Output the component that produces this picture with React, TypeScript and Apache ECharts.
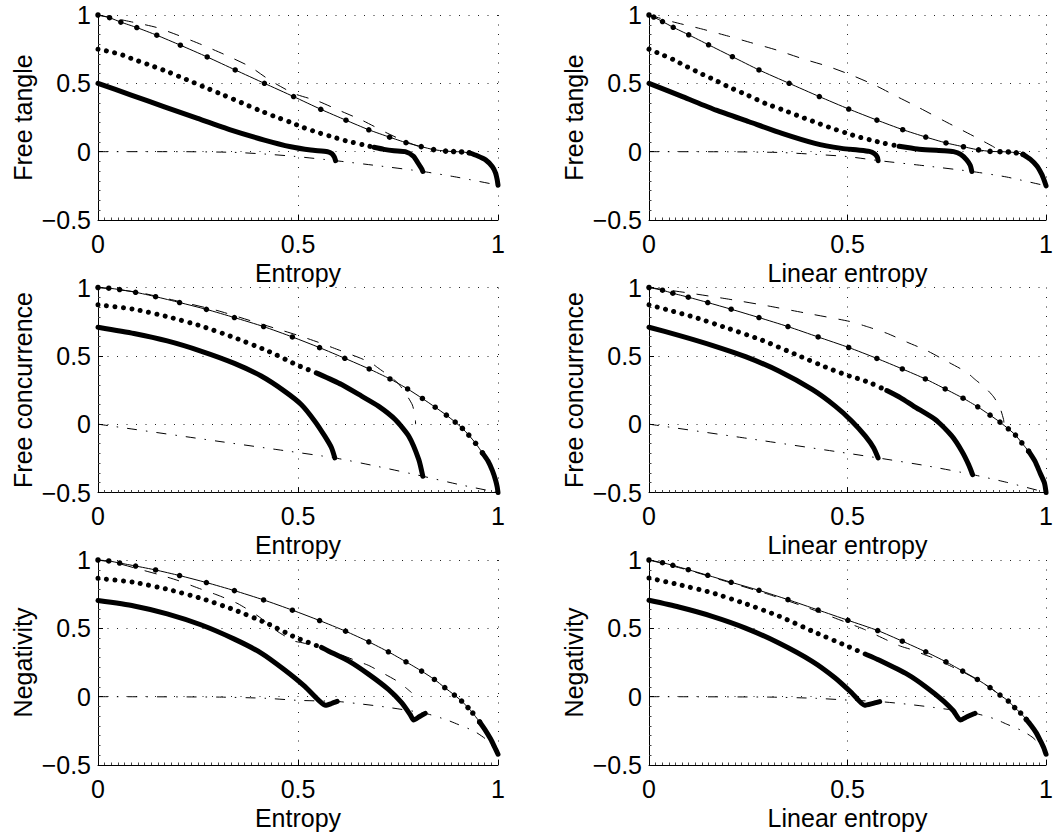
import React, { useEffect, useRef } from 'react';
import * as echarts from 'echarts';

type P = [number, number][];

const xNames = ['Entropy', 'Linear entropy'];
const yNames = ['Free tangle', 'Free concurrence', 'Negativity'];
const xTickInterval = 0.5;
const yTickInterval = 0.5;

// ---------- Panel 1: Free tangle vs Entropy ----------
const p1A: P = [[0,1],[0.029,0.98],[0.057,0.948],[0.097,0.908],[0.147,0.852],[0.206,0.779],[0.273,0.693],[0.343,0.598],[0.416,0.5],[0.489,0.403],[0.557,0.31],[0.62,0.23],[0.677,0.16],[0.729,0.106],[0.77,0.066],[0.808,0.037],[0.839,0.015],[0.869,0.004],[0.889,0.001],[0.909,-0.002],[0.928,-0.008]];
const p1At: P = [[0.928,-0.008],[0.948,-0.03],[0.969,-0.06],[0.986,-0.11],[0.994,-0.157],[0.998,-0.206],[1,-0.245]];
const p1D: P = [[0,1],[0.08,0.952],[0.145,0.91],[0.2,0.852],[0.26,0.782],[0.32,0.706],[0.38,0.622],[0.43,0.522],[0.49,0.425],[0.55,0.37],[0.6,0.306],[0.66,0.23],[0.72,0.14],[0.76,0.085],[0.8,0.04]];
const p1B: P = [[0,0.75],[0.033,0.73],[0.062,0.706],[0.087,0.678],[0.13,0.633],[0.175,0.584],[0.221,0.528],[0.268,0.47],[0.314,0.414],[0.359,0.358],[0.402,0.304],[0.444,0.255],[0.482,0.214],[0.515,0.175],[0.549,0.141],[0.582,0.112],[0.619,0.08],[0.665,0.049],[0.69,0.032]];
const p1Bt: P = [[0.69,0.032],[0.715,0.017],[0.74,0.007],[0.768,0.0],[0.789,-0.034],[0.8,-0.083],[0.81,-0.13],[0.812,-0.145]];
const p1C: P = [[0,0.5],[0.083,0.414],[0.166,0.328],[0.249,0.243],[0.333,0.158],[0.416,0.085],[0.482,0.036],[0.532,0.012],[0.574,0.0],[0.585,-0.015],[0.591,-0.04],[0.594,-0.066]];
const p1DD: P = [[0,0],[0.2,0],[0.34,-0.005],[0.42,-0.018],[0.49,-0.034],[0.594,-0.066],[0.7,-0.103],[0.812,-0.145],[0.9,-0.188],[1,-0.245]];

// ---------- Panel 2: Free tangle vs Linear entropy ----------
const p2A: P = [[0,1],[0.012,0.985],[0.034,0.952],[0.061,0.91],[0.1,0.855],[0.15,0.782],[0.21,0.695],[0.277,0.598],[0.353,0.5],[0.429,0.403],[0.503,0.312],[0.574,0.231],[0.639,0.161],[0.697,0.107],[0.748,0.064],[0.792,0.036],[0.83,0.013],[0.859,0.002],[0.884,0.0],[0.905,-0.002],[0.925,-0.008],[0.942,-0.02]];
const p2At: P = [[0.942,-0.02],[0.96,-0.055],[0.977,-0.105],[0.989,-0.165],[0.996,-0.215],[1,-0.25]];
const p2D: P = [[0,1],[0.06,0.95],[0.13,0.9],[0.2,0.845],[0.26,0.795],[0.32,0.745],[0.39,0.677],[0.45,0.625],[0.51,0.56],[0.57,0.485],[0.62,0.41],[0.68,0.322],[0.74,0.23],[0.79,0.155],[0.83,0.095],[0.865,0.04],[0.88,0.014]];
const p2B: P = [[0,0.75],[0.036,0.706],[0.061,0.674],[0.083,0.64],[0.125,0.579],[0.163,0.528],[0.202,0.472],[0.25,0.411],[0.293,0.353],[0.339,0.304],[0.382,0.255],[0.422,0.212],[0.462,0.17],[0.497,0.136],[0.526,0.109],[0.559,0.085],[0.593,0.061],[0.63,0.039]];
const p2Bt: P = [[0.63,0.039],[0.676,0.019],[0.709,0.012],[0.742,0.007],[0.767,0.0],[0.785,-0.02],[0.8,-0.06],[0.809,-0.1],[0.813,-0.145]];
const p2C: P = [[0,0.5],[0.086,0.401],[0.169,0.304],[0.252,0.219],[0.335,0.134],[0.418,0.061],[0.485,0.024],[0.526,0.012],[0.555,0.002],[0.568,-0.015],[0.575,-0.04],[0.577,-0.066]];
const p2DD: P = [[0,0],[0.2,-0.001],[0.33,-0.006],[0.42,-0.02],[0.5,-0.036],[0.577,-0.065],[0.7,-0.105],[0.813,-0.145],[0.9,-0.185],[1,-0.25]];

// ---------- Panel 3: Free concurrence vs Entropy ----------
const p3A: P = [[0,1],[0.027,0.995],[0.054,0.985],[0.094,0.965],[0.144,0.933],[0.204,0.89],[0.271,0.84],[0.341,0.78],[0.414,0.714],[0.486,0.638],[0.554,0.56],[0.617,0.482],[0.678,0.404],[0.73,0.331],[0.774,0.258],[0.811,0.188],[0.843,0.124],[0.871,0.066],[0.893,0.015],[0.911,-0.031],[0.927,-0.08],[0.944,-0.14],[0.961,-0.21]];
const p3At: P = [[0.961,-0.21],[0.975,-0.27],[0.986,-0.34],[0.994,-0.41],[0.998,-0.46],[1,-0.5]];
const p3D: P = [[0,1],[0.1,0.965],[0.2,0.9],[0.3,0.83],[0.4,0.74],[0.45,0.695],[0.5,0.65],[0.55,0.6],[0.6,0.545],[0.65,0.49],[0.683,0.448],[0.7,0.412],[0.72,0.37],[0.75,0.3],[0.77,0.22],[0.786,0.14],[0.793,0.05],[0.794,0.0]];
const p3B: P = [[0,0.873],[0.09,0.841],[0.173,0.787],[0.257,0.719],[0.341,0.633],[0.425,0.535],[0.5,0.43],[0.55,0.37]];
const p3Bt: P = [[0.55,0.37],[0.609,0.29],[0.659,0.205],[0.701,0.132],[0.743,0.034],[0.777,-0.088],[0.802,-0.259],[0.812,-0.381]];
const p3C: P = [[0,0.709],[0.09,0.663],[0.173,0.609],[0.257,0.535],[0.341,0.445],[0.408,0.352],[0.466,0.242],[0.508,0.144],[0.542,0.022],[0.567,-0.088],[0.584,-0.174],[0.592,-0.247]];
const p3DD: P = [[0,0],[0.3,-0.125],[0.45,-0.187],[0.592,-0.247],[0.7,-0.31],[0.812,-0.381],[0.9,-0.44],[1,-0.5]];

// ---------- Panel 4: Free concurrence vs Linear entropy ----------
const p4A: P = [[0,1],[0.034,0.98],[0.06,0.958],[0.099,0.929],[0.148,0.89],[0.207,0.841],[0.277,0.78],[0.35,0.714],[0.426,0.638],[0.503,0.561],[0.574,0.481],[0.638,0.404],[0.696,0.331],[0.746,0.258],[0.791,0.19],[0.828,0.127],[0.859,0.066],[0.884,0.015],[0.905,-0.034],[0.923,-0.08],[0.939,-0.137],[0.956,-0.198]];
const p4At: P = [[0.956,-0.198],[0.972,-0.271],[0.985,-0.357],[0.996,-0.43],[1,-0.5]];
const p4D: P = [[0,1],[0.1,0.96],[0.2,0.915],[0.3,0.865],[0.4,0.81],[0.505,0.752],[0.55,0.713],[0.6,0.664],[0.65,0.6],[0.7,0.538],[0.75,0.46],[0.8,0.38],[0.82,0.33],[0.847,0.266],[0.868,0.2],[0.884,0.12],[0.893,0.034],[0.894,0.005]];
const p4B: P = [[0,0.873],[0.05,0.834],[0.117,0.78],[0.201,0.699],[0.285,0.614],[0.369,0.511],[0.453,0.408],[0.505,0.352],[0.53,0.33],[0.559,0.3],[0.599,0.246]];
const p4Bt: P = [[0.599,0.246],[0.634,0.193],[0.667,0.131],[0.721,0.034],[0.763,-0.088],[0.788,-0.198],[0.805,-0.296],[0.815,-0.369]];
const p4C: P = [[0,0.709],[0.075,0.65],[0.159,0.577],[0.243,0.494],[0.327,0.389],[0.411,0.254],[0.469,0.132],[0.511,0.022],[0.545,-0.088],[0.566,-0.174],[0.577,-0.247]];
const p4DD: P = [[0,0],[0.25,-0.105],[0.5,-0.213],[0.577,-0.247],[0.7,-0.305],[0.815,-0.369],[0.9,-0.425],[1,-0.5]];

// ---------- Panel 5: Negativity vs Entropy ----------
const p5A: P = [[0,1],[0.027,0.993],[0.054,0.978],[0.094,0.956],[0.144,0.927],[0.204,0.886],[0.271,0.835],[0.341,0.776],[0.414,0.708],[0.486,0.633],[0.554,0.557],[0.619,0.479],[0.677,0.401],[0.726,0.328],[0.77,0.255],[0.809,0.187],[0.841,0.126],[0.867,0.066],[0.891,0.012],[0.909,-0.032],[0.925,-0.08],[0.937,-0.12],[0.954,-0.185]];
const p5At: P = [[0.954,-0.185],[0.967,-0.239],[0.982,-0.312],[0.992,-0.372],[1,-0.421]];
const p5D: P = [[0,1],[0.05,0.975],[0.1,0.935],[0.15,0.895],[0.2,0.85],[0.25,0.795],[0.3,0.742],[0.35,0.68],[0.4,0.59],[0.45,0.475],[0.49,0.407],[0.51,0.395],[0.54,0.372],[0.57,0.345],[0.6,0.315],[0.648,0.26],[0.677,0.228],[0.72,0.16],[0.75,0.11],[0.784,0.03]];
const p5B: P = [[0,0.866],[0.09,0.837],[0.173,0.786],[0.257,0.72],[0.341,0.635],[0.425,0.533],[0.492,0.436],[0.559,0.36]];
const p5Bt: P = [[0.559,0.36],[0.577,0.333],[0.627,0.26],[0.677,0.163],[0.726,0.053],[0.759,-0.044],[0.78,-0.129],[0.789,-0.171],[0.803,-0.147],[0.818,-0.122]];
const p5C: P = [[0,0.703],[0.09,0.664],[0.173,0.606],[0.257,0.526],[0.341,0.421],[0.408,0.319],[0.466,0.197],[0.517,0.075],[0.55,-0.022],[0.569,-0.063],[0.584,-0.05],[0.598,-0.035]];
const p5DD: P = [[0,0],[0.3,-0.003],[0.42,-0.012],[0.5,-0.027],[0.598,-0.035],[0.65,-0.051],[0.72,-0.076],[0.818,-0.122],[0.87,-0.168],[0.9,-0.203],[0.94,-0.252],[0.967,-0.305],[0.985,-0.36],[1,-0.421]];

// ---------- Panel 6: Negativity vs Linear entropy ----------
const p6A: P = [[0,1],[0.034,0.98],[0.06,0.961],[0.099,0.929],[0.148,0.888],[0.207,0.837],[0.277,0.778],[0.35,0.71],[0.426,0.634],[0.501,0.559],[0.576,0.484],[0.638,0.406],[0.697,0.328],[0.748,0.255],[0.79,0.187],[0.827,0.126],[0.859,0.066],[0.884,0.012],[0.905,-0.032],[0.921,-0.08],[0.936,-0.12],[0.95,-0.166]];
const p6At: P = [[0.95,-0.166],[0.962,-0.209],[0.975,-0.263],[0.986,-0.324],[0.994,-0.372],[1,-0.421]];
const p6D: P = [[0,1],[0.1,0.925],[0.2,0.838],[0.3,0.75],[0.4,0.65],[0.5,0.54],[0.54,0.495],[0.605,0.406],[0.634,0.369],[0.666,0.34],[0.695,0.306],[0.724,0.275],[0.748,0.24],[0.79,0.182],[0.83,0.118],[0.86,0.063],[0.885,0.01]];
const p6B: P = [[0,0.868],[0.075,0.82],[0.159,0.76],[0.243,0.68],[0.327,0.59],[0.411,0.48],[0.503,0.365],[0.55,0.305]];
const p6Bt: P = [[0.55,0.305],[0.576,0.272],[0.651,0.163],[0.7,0.066],[0.742,-0.032],[0.767,-0.105],[0.784,-0.171],[0.801,-0.147],[0.821,-0.122]];
const p6C: P = [[0,0.705],[0.075,0.656],[0.159,0.588],[0.243,0.502],[0.327,0.393],[0.411,0.259],[0.469,0.137],[0.511,0.027],[0.543,-0.063],[0.562,-0.051],[0.581,-0.036]];
const p6DD: P = [[0,0],[0.3,-0.003],[0.42,-0.012],[0.5,-0.025],[0.581,-0.036],[0.65,-0.055],[0.72,-0.08],[0.821,-0.122],[0.87,-0.162],[0.9,-0.2],[0.94,-0.25],[0.967,-0.3],[0.985,-0.355],[1,-0.421]];

const panels = [
  { A: p1A, At: p1At, D: p1D, B: p1B, Bt: p1Bt, C: p1C, DD: p1DD },
  { A: p2A, At: p2At, D: p2D, B: p2B, Bt: p2Bt, C: p2C, DD: p2DD },
  { A: p3A, At: p3At, D: p3D, B: p3B, Bt: p3Bt, C: p3C, DD: p3DD },
  { A: p4A, At: p4At, D: p4D, B: p4B, Bt: p4Bt, C: p4C, DD: p4DD },
  { A: p5A, At: p5At, D: p5D, B: p5B, Bt: p5Bt, C: p5C, DD: p5DD },
  { A: p6A, At: p6At, D: p6D, B: p6B, Bt: p6Bt, C: p6C, DD: p6DD },
];

const FONT = 'Liberation Sans, Arial, Helvetica, sans-serif';
const FS = 25;
const colLeft = [98, 649];
const rowTop = [15, 287.5, 560];
const GW = 400;
const GH = 205;

function buildOption() {
  const grid: any[] = [];
  const xAxis: any[] = [];
  const yAxis: any[] = [];
  const series: any[] = [];
  const gridLine = { show: true, lineStyle: { color: '#222', width: 1, type: [1, 8.5] } };
  panels.forEach((p, i) => {
    const row = Math.floor(i / 2);
    const col = i % 2;
    grid.push({ left: colLeft[col], top: rowTop[row], width: GW, height: GH, containLabel: false });
    xAxis.push({
      type: 'value', gridIndex: i, min: 0, max: 1, interval: xTickInterval,
      name: xNames[col], nameLocation: 'middle', nameGap: 40,
      nameTextStyle: { fontSize: FS, color: '#000', fontFamily: FONT },
      axisLine: { show: true, onZero: false, lineStyle: { color: '#000', width: 1 } },
      axisTick: { show: true, inside: true, length: 5, lineStyle: { color: '#000' } },
      minorTick: { show: true, splitNumber: 30, length: 2.5, lineStyle: { color: '#444', width: 1 } },
      splitLine: gridLine,
      axisLabel: { margin: 11, fontSize: FS, color: '#000', fontFamily: FONT },
    });
    yAxis.push({
      type: 'value', gridIndex: i, min: -0.5, max: 1, interval: yTickInterval,
      name: yNames[row], nameLocation: 'middle', nameGap: 63,
      nameTextStyle: { fontSize: FS, color: '#000', fontFamily: FONT },
      axisLine: { show: true, onZero: false, lineStyle: { color: '#000', width: 1 } },
      axisTick: { show: true, inside: true, length: 5, lineStyle: { color: '#000' } },
      minorTick: { show: true, splitNumber: 7, length: 2.5, lineStyle: { color: '#444', width: 1 } },
      splitLine: gridLine,
      axisLabel: {
        margin: 7, fontSize: FS, color: '#000', fontFamily: FONT,
        formatter: (v: number) => (v < 0 ? '\u2212' + String(Math.abs(v)) : String(v)),
      },
    });
    const base = {
      type: 'line', xAxisIndex: i, yAxisIndex: i, clip: false, silent: true,
      emphasis: { disabled: true },
    };
    const sm = { smooth: 0.2 };
    const thick = { color: '#000', width: 5, cap: 'round', join: 'round' };
    series.push({ ...base, ...sm, data: p.DD, symbol: 'none', lineStyle: { color: '#000', width: 1, type: [10, 9, 1.5, 9] } });
    series.push({ ...base, ...sm, data: p.D, symbol: 'none', lineStyle: { color: '#000', width: 1, type: [12, 12] } });
    series.push({ ...base, ...sm, data: p.C, symbol: 'none', lineStyle: thick });
    series.push({ ...base, ...sm, data: p.B, symbol: 'none', lineStyle: { color: '#000', width: 5, cap: 'round', type: [0.01, 8.5] } });
    series.push({ ...base, ...sm, data: p.Bt, symbol: 'none', lineStyle: thick });
    series.push({
      ...base, ...sm, data: p.A, symbol: 'circle', symbolSize: 5.5, showSymbol: true, showAllSymbol: true,
      itemStyle: { color: '#000' }, lineStyle: { color: '#000', width: 1 },
    });
    series.push({ ...base, ...sm, data: p.At, symbol: 'none', lineStyle: thick });
  });
  return { animation: false, backgroundColor: '#fff', grid, xAxis, yAxis, series };
}

export default function App() {
  const ref = useRef<HTMLDivElement>(null);
  useEffect(() => {
    if (!ref.current) return;
    const chart = echarts.init(ref.current, undefined, { renderer: 'svg' });
    chart.setOption(buildOption() as any);
    return () => chart.dispose();
  }, []);
  return <div ref={ref} style={{ position: 'absolute', left: 0, top: 0, width: 1056, height: 834 }} />;
}
